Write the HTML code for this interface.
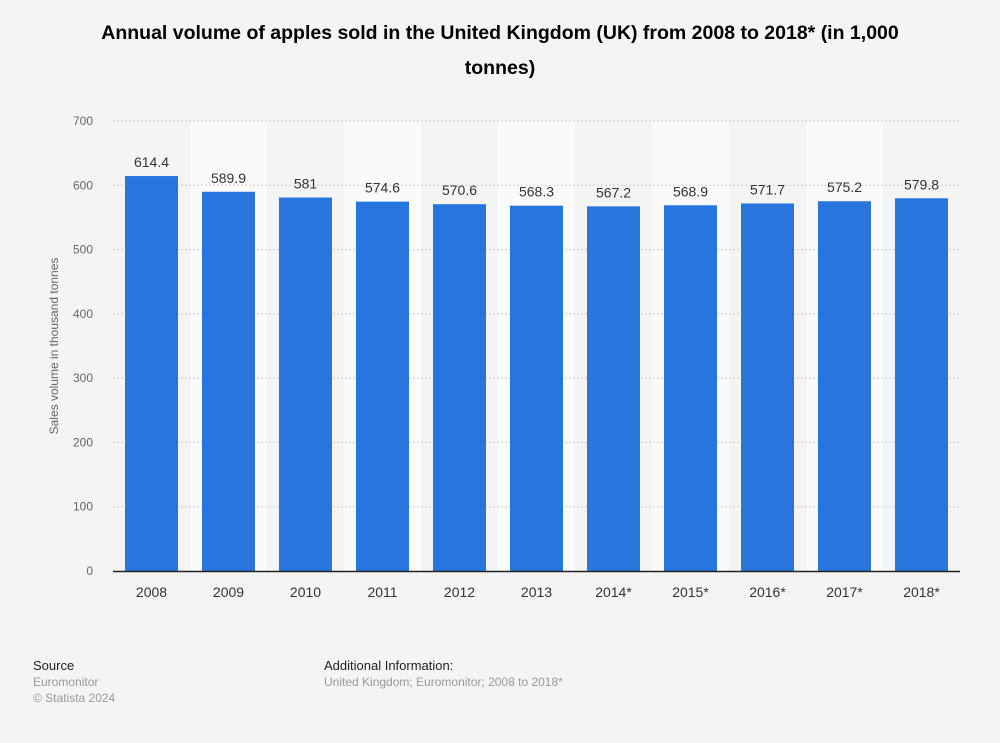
<!DOCTYPE html>
<html><head><meta charset="utf-8">
<style>
body{margin:0;background:#f4f4f4;font-family:"Liberation Sans",Arial,sans-serif;}
#wrap{position:relative;width:1000px;height:743px;overflow:hidden;}
h1{position:absolute;left:20px;right:20px;top:16px;margin:0;text-align:center;font-size:19.5px;line-height:35px;font-weight:bold;color:#000;}
.foot{position:absolute;font-size:12px;line-height:16px;color:#999;}
.foot b{font-weight:normal;color:#222;font-size:13px;}
</style></head><body>
<div id="wrap">
<h1>Annual volume of apples sold in the United Kingdom (UK) from 2008 to 2018* (in 1,000<br>tonnes)</h1>
<svg id="chart" width="1000" height="743" style="position:absolute;left:0;top:0"></svg>
<div class="foot" style="left:33px;top:658px"><b>Source</b><br>Euromonitor<br>© Statista 2024</div>
<div class="foot" style="left:324px;top:658px"><b>Additional Information:</b><br>United Kingdom; Euromonitor; 2008 to 2018*</div>
</div>
<script>
const categories=["2008","2009","2010","2011","2012","2013","2014*","2015*","2016*","2017*","2018*"];
const values=[614.4,589.9,581,574.6,570.6,568.3,567.2,568.9,571.7,575.2,579.8];
const valueLabels=["614.4","589.9","581","574.6","570.6","568.3","567.2","568.9","571.7","575.2","579.8"];
const yTicks=[0,100,200,300,400,500,600,700];
const NS="http://www.w3.org/2000/svg";
const svg=document.getElementById('chart');
const L=113,R=960,T=121,B=571,yMax=700;
const bw=(R-L)/categories.length;
const y=v=>B-(v/yMax)*(B-T);
const x=i=>L+i*bw;
function mk(t,a){const e=document.createElementNS(NS,t);for(const k in a)e.setAttribute(k,a[k]);svg.appendChild(e);return e;}
categories.forEach((c,i)=>{if(i%2===1){const r=mk('rect',{x:x(i),y:T,width:bw,height:B-T,fill:'#fafafa'});

}});
yTicks.forEach(t=>{
 if(t>0){const g=mk('line',{x1:L,x2:R,y1:y(t),y2:y(t),stroke:'#ccc','stroke-dasharray':'2,2'});
 
 }
 const tx=mk('text',{x:93,y:y(t)+4,'text-anchor':'end','font-size':12,fill:'#666'});tx.textContent=t;
 
 
});
const yt=mk('text',{x:58,y:(T+B)/2,'text-anchor':'middle','font-size':12,fill:'#666',transform:`rotate(-90 58 ${(T+B)/2})`});
yt.textContent='Sales volume in thousand tonnes';


values.forEach((v,i)=>{
 const cx=x(i)+bw/2,w=53;
 const b=mk('rect',{x:cx-w/2,y:y(v),width:w,height:B-y(v),fill:'#2876dd'});
 
 
 const l=mk('text',{x:cx,y:y(v)-9,'text-anchor':'middle','font-size':14,fill:'#333'});l.textContent=valueLabels[i];
 
 
 const c=mk('text',{x:cx,y:B+26,'text-anchor':'middle','font-size':14,fill:'#333'});c.textContent=categories[i];
 
 
});
const ax=mk('line',{x1:L,x2:R,y1:B+0.5,y2:B+0.5,stroke:'#222','stroke-width':1.5});


</script>
</body></html>
